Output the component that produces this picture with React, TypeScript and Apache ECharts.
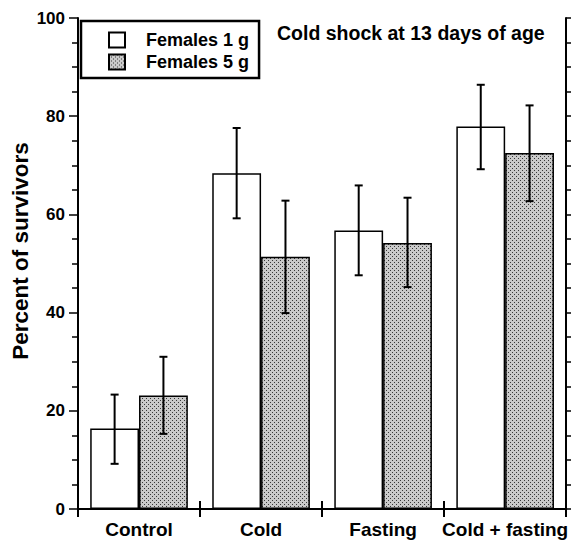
import React, { useEffect, useRef } from "react";
import * as echarts from "echarts";

const categories = ["Control", "Cold", "Fasting", "Cold + fasting"];
const females1g = [16.4, 68.4, 56.7, 77.9];
const females1gLow = [9.2, 59.2, 47.6, 69.2];
const females1gHigh = [23.3, 77.6, 65.9, 86.4];
const females5g = [23.1, 51.4, 54.2, 72.5];
const females5gLow = [15.3, 39.9, 45.2, 62.7];
const females5gHigh = [31.0, 62.8, 63.4, 82.2];
const yTicks = [0, 20, 40, 60, 80, 100];

const FONT = "'Liberation Sans', Arial, sans-serif";

function makeDots(): HTMLCanvasElement {
  const c = document.createElement("canvas");
  c.width = 4;
  c.height = 4;
  const ctx = c.getContext("2d")!;
  ctx.fillStyle = "#cacaca";
  ctx.fillRect(0, 0, 4, 4);
  ctx.fillStyle = "#383838";
  ctx.fillRect(0, 0, 1, 1);
  ctx.fillRect(2, 2, 1, 1);
  return c;
}

function errSeries(name: string, low: number[], high: number[], offset: number) {
  return {
    type: "custom",
    name: name + " err",
    xAxisIndex: 0,
    yAxisIndex: 0,
    z: 10,
    silent: true,
    data: categories.map((_, i) => [i, low[i], high[i]]),
    renderItem: (params: any, api: any) => {
      const idx = api.value(0);
      const band = api.size([1, 0])[0];
      const p1 = api.coord([idx, api.value(1)]);
      const p2 = api.coord([idx, api.value(2)]);
      const x = p1[0] + offset * band;
      const cap = 4;
      const st = { stroke: "#000", lineWidth: 2 };
      return {
        type: "group",
        children: [
          { type: "line", shape: { x1: x, y1: p1[1], x2: x, y2: p2[1] }, style: st },
          { type: "line", shape: { x1: x - cap, y1: p1[1], x2: x + cap, y2: p1[1] }, style: st },
          { type: "line", shape: { x1: x - cap, y1: p2[1], x2: x + cap, y2: p2[1] }, style: st },
        ],
      };
    },
  };
}

export default function App() {
  const ref = useRef<HTMLDivElement>(null);
  useEffect(() => {
    if (!ref.current) return;
    const chart = echarts.init(ref.current, undefined, { renderer: "svg" });
    const dots = { image: makeDots(), repeat: "repeat" };
    const axisLine = { show: true, lineStyle: { color: "#000", width: 2 } };
    chart.setOption({
      animation: false,
      backgroundColor: "#fff",
      textStyle: { fontFamily: FONT },
      title: {
        text: "Cold shock at 13 days of age",
        left: 277,
        top: 23,
        padding: 0,
        textStyle: { fontFamily: FONT, fontSize: 19.5, fontWeight: "bold", color: "#000" },
      },
      legend: {
        orient: "vertical",
        left: 81,
        top: 21,
        padding: [10, 10, 7, 27],
        borderColor: "#000",
        borderWidth: 2.5,
        itemWidth: 16,
        itemHeight: 15,
        itemGap: 4,
        icon: "rect",
        selectedMode: false,
        data: ["Females 1 g", "Females 5 g"],
        textStyle: {
          fontFamily: FONT,
          fontSize: 18,
          fontWeight: "bold",
          color: "#000",
          lineHeight: 18,
          padding: [0, 0, 0, 16],
        },
      },
      grid: { left: 78, right: 3, top: 18, bottom: 35, containLabel: false },
      xAxis: [
        {
          type: "category",
          data: categories,
          position: "bottom",
          axisLine,
          axisTick: { show: true, alignWithLabel: false, length: 8, lineStyle: { width: 2, color: "#000" } },
          axisLabel: { interval: 0, fontFamily: FONT, fontSize: 19, fontWeight: "bold", color: "#000", margin: 11 },
          splitLine: { show: false },
        },
        {
          type: "category",
          data: categories,
          position: "top",
          axisLine,
          axisTick: { show: true, alignWithLabel: false, length: 8, lineStyle: { width: 2, color: "#000" } },
          axisLabel: { show: false },
          splitLine: { show: false },
        },
      ],
      yAxis: [
        {
          type: "value",
          min: yTicks[0],
          max: yTicks[yTicks.length - 1],
          interval: 20,
          position: "left",
          axisLine,
          axisTick: { show: true, length: 9, lineStyle: { width: 1.5, color: "#000" } },
          minorTick: { show: true, splitNumber: 4, length: 6, lineStyle: { width: 1.5, color: "#000" } },
          axisLabel: { fontFamily: FONT, fontSize: 17, fontWeight: "bold", color: "#000", margin: 13 },
          splitLine: { show: false },
          minorSplitLine: { show: false },
        },
        {
          type: "value",
          min: yTicks[0],
          max: yTicks[yTicks.length - 1],
          interval: 20,
          position: "right",
          axisLine,
          axisTick: { show: true, length: 6, lineStyle: { width: 1.5, color: "#000" } },
          minorTick: { show: true, splitNumber: 4, length: 6, lineStyle: { width: 1.5, color: "#000" } },
          axisLabel: { show: false },
          splitLine: { show: false },
          minorSplitLine: { show: false },
        },
      ],
      graphic: [
        {
          type: "text",
          x: 20,
          y: 251,
          rotation: Math.PI / 2,
          style: {
            text: "Percent of survivors",
            fontFamily: FONT,
            fontSize: 22.5,
            fontWeight: "bold",
            fill: "#000",
            align: "center",
            verticalAlign: "middle",
          },
        },
      ],
      series: [
        {
          type: "bar",
          name: "Females 1 g",
          data: females1g,
          barGap: "0%",
          barCategoryGap: "20%",
          itemStyle: { color: "#fff", borderColor: "#000", borderWidth: 1.5 },
        },
        {
          type: "bar",
          name: "Females 5 g",
          data: females5g,
          barGap: "0%",
          barCategoryGap: "20%",
          itemStyle: { color: dots, borderColor: "#000", borderWidth: 1.5 },
        },
        errSeries("Females 1 g", females1gLow, females1gHigh, -0.2),
        errSeries("Females 5 g", females5gLow, females5gHigh, 0.2),
      ],
    });
    return () => chart.dispose();
  }, []);
  return (
    <div
      ref={ref}
      style={{ position: "fixed", left: 0, top: 0, width: 571, height: 544 }}
    />
  );
}
